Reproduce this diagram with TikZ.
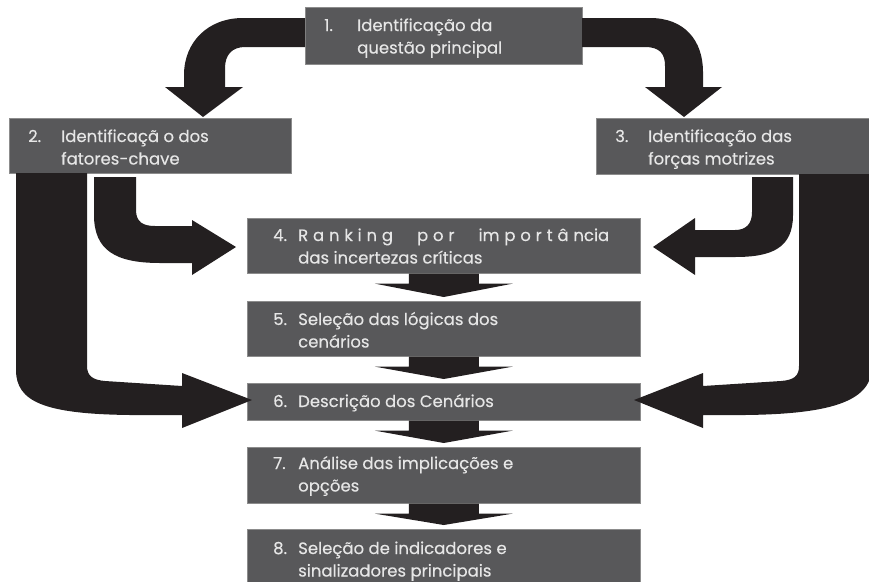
\documentclass[tikz,border=0pt]{standalone}
\usepackage{fontspec}
\setmainfont{Poppins}[FakeBold=0.3]
\usetikzlibrary{calc}
\definecolor{boxgray}{HTML}{58585A}
\definecolor{boxedge}{HTML}{8C8C8C}
\definecolor{arrowblack}{HTML}{231F20}
\definecolor{boxtext}{HTML}{E6E6E6}
% two stacked lines whose baseline is the first line
\newcommand\twoln[2]{\vtop{\baselineskip=22.5pt\hbox{#1}\hbox{#2}}}
% short wide block arrow from the bottom of one box to the top of the next
\newcommand\dnarrow[2]{%
  \fill[arrowblack] ($(#1.south)+(-35,0)$) -- ++(0,10) -- ++(-34,0)
    -- ($(#2.north)+(0,-4)$) -- ($(#1.south)+(69,10)$) -- ++(-34,0) -- ++(0,-10) -- cycle;}
\begin{document}
\begin{tikzpicture}[x=1pt,y=-1pt,
  stepbox/.style={draw=boxedge, line width=0.6pt, fill=boxgray, inner sep=0pt,
                  anchor=north west, minimum width=393pt},
  label/.style={anchor=base west, inner sep=0pt, text=boxtext,
                font=\fontsize{16.5}{22.5}\selectfont}]
\useasboundingbox (0,0) rectangle (869,581);
\clip (0,0) rectangle (869,581);

% boxes
\node[stepbox, minimum width=277pt, minimum height=57pt] (b1) at (305,7) {};
\node[stepbox, minimum width=282pt, minimum height=55pt] (b2) at (9,118) {};
\node[stepbox, minimum width=276pt, minimum height=56pt] (b3) at (596,118) {};
\node[stepbox, minimum height=55pt] (b4) at (247,218) {};
\node[stepbox, minimum height=55pt] (b5) at (247,301) {};
\node[stepbox, minimum height=37pt] (b6) at (247,383) {};
\node[stepbox, minimum height=56pt] (b7) at (247,447) {};
\node[stepbox, minimum height=64pt] (b8) at (247,529) {};

% box texts
\node[label] (n1) at ($(b1.north west)+(19,24)$) {1.};
\node[label] (t1) at ($(b1.north west)+(52,24)$) {\twoln{Identificação da}{questão principal}};
\node[label] (n2) at ($(b2.north west)+(19,24)$) {2.};
\node[label] (t2) at ($(b2.north west)+(52,24)$) {\twoln{Identificaçã o dos}{fatores-chave}};
\node[label] (n3) at ($(b3.north west)+(19,24)$) {3.};
\node[label] (t3) at ($(b3.north west)+(52,24)$) {\twoln{Identificação das}{forças motrizes}};
\node[label] (n4) at ($(b4.north west)+(26,23)$) {4.};
\node[label] (t4) at ($(b4.north west)+(51,23)$) {\twoln{\hbox to 311pt{R\hfil a\hfil n\hfil k\hfil i\hfil n\hfil g\hskip 0pt plus 5fil p\hfil o\hfil r\hskip 0pt plus 5fil im\hfil p\hfil o\hfil r\hfil t\hfil â\hfil ncia}}{das incertezas críticas}};
\node[label] (n5) at ($(b5.north west)+(26,24)$) {5.};
\node[label] (t5) at ($(b5.north west)+(51,24)$) {\twoln{Seleção das lógicas dos}{cenários}};
\node[label] (n6) at ($(b6.north west)+(26,24)$) {6.};
\node[label] (t6) at ($(b6.north west)+(51,24)$) {Descrição dos Cenários};
\node[label] (n7) at ($(b7.north west)+(26,22)$) {7.};
\node[label] (t7) at ($(b7.north west)+(51,22)$) {\twoln{Análise das implicações e}{opções}};
\node[label] (n8) at ($(b8.north west)+(26,25)$) {8.};
\node[label] (t8) at ($(b8.north west)+(51,25)$) {\twoln{Seleção de indicadores e}{sinalizadores principais}};

% curved block arrows from step 1 to steps 2 and 3
\fill[arrowblack] (305,18) -- (243,18) .. controls (208,18) and (184,42) .. (184,75)
  -- (184,87) -- (165,87) -- (203,117) -- (243,87) -- (225,87) -- (225,68)
  .. controls (225,55) and (232,47) .. (245,47) -- (305,47) -- cycle;
\fill[arrowblack] (582,18) -- (650,18) .. controls (684,18) and (703,40) .. (703,72)
  -- (703,87) -- (722,87) -- (684,117) -- (645,87) -- (665,87) -- (665,66)
  .. controls (665,54) and (660,47) .. (645,47) -- (582,47) -- cycle;

% block arrows from steps 2 and 3 into step 4
\fill[arrowblack] (94,177) -- (94,215) .. controls (94,250) and (115,263) .. (160,263)
  -- (192,263) -- (192,275) -- (236,247) -- (192,220) -- (192,226) -- (155,226)
  .. controls (143,226) and (136,222) .. (136,210) -- (136,177) -- cycle;
\fill[arrowblack] (793,177) -- (793,215) .. controls (793,248) and (772,257) .. (735,257)
  -- (695,257) -- (695,275) -- (653,247) -- (695,218) -- (695,230) -- (735,230)
  .. controls (746,230) and (752,224) .. (752,212) -- (752,177) -- cycle;

% wide block arrows from steps 2 and 3 into step 6
\fill[arrowblack] (16,173) -- (16,370) .. controls (16,402) and (45,414) .. (130,415)
  -- (182,415) -- (182,428) -- (252,400) -- (182,373) -- (182,386) -- (105,381)
  .. controls (93,380) and (87,376) .. (87,366) -- (87,173) -- cycle;
\fill[arrowblack] (799,174) -- (799,366) .. controls (799,376) and (794,380) .. (781,381)
  -- (703,386) -- (703,373) -- (634,400) -- (703,428) -- (703,415) -- (745,415)
  .. controls (835,414) and (872,400) .. (872,366) -- (872,174) -- cycle;

% arrows down the column of steps
\dnarrow{b4}{b5}
\dnarrow{b5}{b6}
\dnarrow{b6}{b7}
\dnarrow{b7}{b8}
\end{tikzpicture}
\end{document}
